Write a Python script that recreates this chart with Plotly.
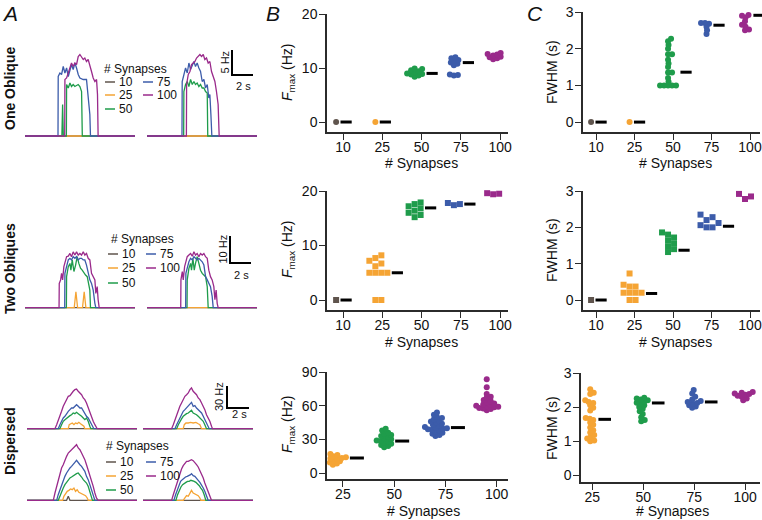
import plotly.graph_objects as go

W, H = 762, 520
FONT = "Liberation Sans, Arial, Helvetica, sans-serif"
AX = "#2b2b2b"
GRAY, ORANGE, GREEN, BLUE, PURPLE = "#5f544d", "#f5a434", "#1f9c4b", "#3c5caa", "#9a2a8b"

syn5 = ["10", "25", "50", "75", "100"]
syn4 = ["25", "50", "75", "100"]
col5 = [GRAY, ORANGE, GREEN, BLUE, PURPLE]
col4 = [ORANGE, GREEN, BLUE, PURPLE]

# ---------------- Panel B : Fmax (Hz) ----------------
fmax_one_10 = [0]
fmax_one_25 = [0]
fmax_one_50 = [8.4, 8.6, 8.8, 8.9, 9.0, 9.2, 9.4, 9.6, 9.8, 9.9]
fmax_one_75 = [8.6, 8.7, 8.8, 10.5, 10.8, 11.0, 11.3, 11.5, 11.8, 12.0]
fmax_one_100 = [11.6, 11.8, 12.0, 12.1, 12.3, 12.5, 12.6, 12.8]
fmax_one_mean = [0, 0, 9.0, 11.0, 12.2]

fmax_two_10 = [0]
fmax_two_25 = [0, 0, 5, 5, 5, 5, 6.2, 6.7, 7.2, 7.7, 8.2]
fmax_two_50 = [15.2, 15.6, 16.0, 16.4, 16.8, 17.2, 17.6, 17.9]
fmax_two_75 = [17.4, 17.6, 17.8]
fmax_two_100 = [19.4, 19.5, 19.6]
fmax_two_mean = [0, 5.0, 16.9, 17.6, 19.4]

fmax_disp_25 = [7.5, 8.5, 9.5, 10.5, 11, 11.5, 12, 12.5, 13, 13.5, 14, 15, 16, 17, 18]
fmax_disp_50 = [23, 24, 25, 26, 27, 28, 28.5, 29, 30, 31, 32, 33, 34, 35, 36, 38, 39.5]
fmax_disp_75 = [33, 34, 35, 36, 37, 38, 38.5, 39, 39.5, 40, 40.5, 41, 42, 43, 44, 45, 46,
                47, 48, 49, 50, 52, 54]
fmax_disp_100 = [56, 57, 57.5, 58, 58.5, 59, 59.5, 60, 60.5, 61, 62, 63, 64, 65, 67, 68,
                 70.5, 76.5, 83.5]
fmax_disp_mean = [13.4, 28.5, 40.5, 60.2]

# ---------------- Panel C : FWHM (s) ----------------
fwhm_one_10 = [0]
fwhm_one_25 = [0]
fwhm_one_50 = [1.0, 1.0, 1.0, 1.0, 1.0, 1.1, 1.2, 1.35, 1.35, 1.5, 1.6, 1.7, 1.85, 1.85,
               2.0, 2.1, 2.2, 2.27]
fwhm_one_75 = [2.4, 2.5, 2.6, 2.68, 2.7, 2.7]
fwhm_one_100 = [2.5, 2.52, 2.6, 2.65, 2.75, 2.85, 2.9, 2.92]
fwhm_one_mean = [0, 0, 1.36, 2.64, 2.91]

fwhm_two_10 = [0]
fwhm_two_25 = [0, 0, 0.2, 0.2, 0.2, 0.2, 0.37, 0.37, 0.42, 0.73]
fwhm_two_50 = [1.32, 1.4, 1.48, 1.56, 1.64, 1.72, 1.8, 1.86]
fwhm_two_75 = [2.0, 2.0, 2.06, 2.12, 2.2, 2.28, 2.35]
fwhm_two_100 = [2.78, 2.85, 2.92]
fwhm_two_mean = [0, 0.18, 1.37, 2.03, 2.87]

fwhm_disp_25 = [1.0, 1.02, 1.08, 1.12, 1.18, 1.25, 1.32, 1.4, 1.48, 1.55, 1.62, 1.66, 1.68,
                1.9, 1.98, 2.05, 2.12, 2.15, 2.2, 2.38, 2.42, 2.52]
fwhm_disp_50 = [1.58, 1.62, 1.7, 1.8, 1.88, 1.95, 2.0, 2.05, 2.1, 2.13, 2.16, 2.2, 2.22,
                2.25, 2.27]
fwhm_disp_75 = [1.98, 2.02, 2.05, 2.1, 2.12, 2.15, 2.18, 2.22, 2.3, 2.4, 2.5]
fwhm_disp_100 = [2.2, 2.25, 2.3, 2.33, 2.36, 2.38, 2.4, 2.42, 2.44]
fwhm_disp_mean = [1.64, 2.12, 2.15, 2.4]

# ---------------- Panel A : firing-rate traces (time s, rate Hz) ----------------
flat_t = [0, 10.5]
flat_hz = [0, 0]

one_L_50_t = [0, 3.52, 3.59, 3.66, 3.95, 3.97, 4.13, 4.29, 4.44, 4.60, 4.76, 4.92, 5.08, 5.24, 5.40, 5.47, 10.5]
one_L_50_hz = [0, 0, 6.3, 0, 0, 10.3, 9.6, 10.6, 9.9, 10.3, 9.9, 10.1, 10.3, 9.9, 8.9, 0, 0]
one_L_75_t = [0, 3.15, 3.17, 3.33, 3.49, 3.65, 3.81, 3.97, 4.13, 4.29, 4.44, 4.60, 4.76, 4.92, 5.08, 5.24, 5.56, 5.87, 6.03, 6.19, 6.25, 10.5]
one_L_75_hz = [0, 0, 11.9, 12.6, 12.3, 13.9, 12.6, 13.6, 11.9, 12.9, 14.3, 13.3, 14.6, 13.6, 12.3, 11.6, 11.3, 11.3, 8.3, 4.3, 0, 0]
one_L_100_t = [0, 3.79, 3.81, 3.97, 4.13, 4.29, 4.44, 4.60, 4.76, 4.92, 5.08, 5.24, 5.40, 5.56, 5.71, 5.87, 6.03, 6.19, 6.35, 6.51, 6.67, 6.83, 6.92, 6.98, 10.5]
one_L_100_hz = [0, 0, 11.3, 11.6, 12.6, 13.6, 14.6, 13.9, 14.6, 14.3, 15.9, 16.3, 15.9, 15.3, 15.6, 14.9, 15.3, 14.3, 12.9, 11.6, 10.9, 11.3, 8.3, 0, 0]

one_R_50_t = [0, 3.50, 3.52, 3.68, 3.84, 4.0, 4.16, 4.32, 4.48, 4.63, 4.79, 4.95, 5.11, 5.27, 5.43, 5.59, 5.75, 5.8, 10.5]
one_R_50_hz = [0, 0, 8.9, 10.3, 10.9, 9.9, 11.3, 10.3, 10.9, 10.3, 10.6, 9.9, 10.3, 9.6, 9.6, 8.9, 8.6, 0, 0]
one_R_75_t = [0, 3.34, 3.36, 3.52, 3.68, 3.84, 4.0, 4.16, 4.32, 4.48, 4.63, 4.79, 4.95, 5.11, 5.27, 5.43, 5.59, 5.75, 5.90, 6.0, 6.1, 6.19, 10.5]
one_R_75_hz = [0, 0, 10.9, 12.3, 13.6, 12.6, 14.6, 13.3, 14.3, 14.9, 13.9, 14.6, 13.6, 12.9, 10.9, 11.3, 9.6, 10.3, 7.6, 8.3, 4.3, 0, 0]
one_R_100_t = [0, 3.76, 3.78, 3.94, 4.10, 4.25, 4.41, 4.57, 4.73, 4.89, 5.05, 5.21, 5.37, 5.52, 5.68, 5.84, 6.0, 6.16, 6.32, 6.48, 6.63, 6.79, 6.89, 10.5]
one_R_100_hz = [0, 0, 10.3, 12.3, 12.9, 14.3, 14.6, 14.9, 15.6, 15.9, 16.3, 15.9, 16.3, 15.3, 15.6, 14.6, 14.9, 12.9, 11.9, 10.9, 8.9, 6.3, 0, 0]

two_L_25_t = [0, 4.70, 4.86, 5.02, 5.49, 5.65, 5.81, 10.5]
two_L_25_hz = [0, 0, 5.9, 0, 0, 5.9, 0, 0]
two_L_50_t = [0, 3.95, 3.97, 4.13, 4.29, 4.38, 4.51, 4.67, 4.83, 4.98, 5.14, 5.30, 5.46, 5.62, 5.78, 5.94, 6.10, 6.19, 6.25, 10.5]
two_L_50_hz = [0, 0, 11.5, 15.2, 16.4, 13.9, 17.7, 13.4, 15.8, 18.9, 16.4, 14.6, 13.9, 12.7, 12.1, 11.5, 7.8, 6.5, 0, 0]
two_L_75_t = [0, 3.79, 3.81, 3.97, 4.13, 4.29, 4.44, 4.60, 4.76, 4.92, 5.08, 5.24, 5.40, 5.56, 5.71, 5.87, 6.03, 6.19, 6.35, 6.51, 6.67, 6.76, 10.5]
two_L_75_hz = [0, 0, 12.7, 15.2, 17.7, 18.3, 17.7, 18.9, 18.3, 18.9, 17.7, 18.3, 18.3, 17.7, 17.7, 15.8, 12.7, 10.3, 9.0, 6.5, 1.6, 0, 0]
two_L_100_t = [0, 3.25, 3.27, 3.40, 3.49, 3.59, 3.71, 3.84, 3.97, 4.13, 4.29, 4.44, 4.60, 4.76, 4.92, 5.08, 5.24, 5.40, 5.56, 5.71, 5.87, 6.03, 6.19, 6.35, 6.51, 6.67, 6.76, 6.89, 6.98, 7.08, 10.5]
two_L_100_hz = [0, 0, 9.0, 10.3, 12.7, 10.3, 15.2, 17.0, 18.9, 19.1, 20.1, 18.9, 20.7, 19.5, 20.7, 19.5, 20.1, 19.5, 20.7, 19.5, 20.1, 18.3, 17.7, 12.7, 11.5, 10.3, 5.3, 7.8, 3.0, 0, 0]

two_R_50_t = [0, 3.82, 3.84, 4.0, 4.16, 4.25, 4.38, 4.51, 4.63, 4.79, 4.95, 5.11, 5.27, 5.43, 5.59, 5.75, 5.84, 10.5]
two_R_50_hz = [0, 0, 10.3, 14.6, 16.4, 13.9, 18.3, 13.9, 16.4, 18.9, 16.4, 13.9, 12.7, 12.1, 11.5, 7.8, 0, 0]
two_R_75_t = [0, 3.69, 3.71, 3.84, 4.0, 4.16, 4.32, 4.48, 4.63, 4.79, 4.95, 5.11, 5.27, 5.43, 5.59, 5.75, 5.90, 6.06, 6.22, 6.32, 10.5]
two_R_75_hz = [0, 0, 12.7, 15.2, 17.0, 18.3, 17.7, 18.9, 18.3, 17.7, 18.3, 17.7, 17.0, 15.8, 11.5, 10.3, 9.0, 7.8, 4.2, 0, 0]
two_R_100_t = [0, 3.22, 3.24, 3.37, 3.46, 3.59, 3.71, 3.84, 4.0, 4.16, 4.32, 4.48, 4.63, 4.79, 4.95, 5.11, 5.27, 5.43, 5.59, 5.75, 5.90, 6.06, 6.22, 6.38, 6.48, 6.60, 6.70, 6.79, 10.5]
two_R_100_hz = [0, 0, 10.3, 13.4, 10.3, 15.2, 17.0, 18.9, 19.5, 20.1, 19.1, 20.7, 19.5, 20.1, 18.9, 20.1, 19.5, 20.1, 18.9, 18.3, 13.9, 11.5, 10.3, 7.8, 3.0, 6.5, 1.6, 0, 0]

dispU_L_25_t = [0, 3.94, 4.03, 4.16, 4.32, 4.48, 4.63, 4.79, 4.95, 5.11, 5.27, 5.43, 5.52, 10.5]
dispU_L_25_hz = [0, 0, 5.5, 6.8, 7.8, 5.5, 7.8, 6.8, 8.7, 6.8, 5.5, 3.3, 0, 0]
dispU_L_50_t = [0, 3.14, 3.30, 3.46, 3.62, 3.78, 3.94, 4.10, 4.25, 4.41, 4.57, 4.73, 4.89, 5.05, 5.21, 5.37, 5.52, 5.68, 5.84, 6.0, 6.10, 10.5]
dispU_L_50_hz = [0, 0, 5.5, 10.1, 12.3, 14.6, 16.9, 17.8, 19.1, 21.4, 20.5, 22.3, 20.5, 19.1, 16.9, 14.6, 12.3, 14.6, 10.1, 3.3, 0, 0]
dispU_L_75_t = [0, 2.98, 3.14, 3.30, 3.46, 3.62, 3.78, 3.94, 4.10, 4.25, 4.41, 4.57, 4.73, 4.89, 5.05, 5.21, 5.37, 5.52, 5.68, 5.84, 6.0, 6.16, 6.32, 6.38, 10.5]
dispU_L_75_hz = [0, 0, 5.5, 10.1, 14.6, 16.9, 21.4, 23.7, 26.0, 28.2, 28.2, 30.5, 32.7, 30.5, 28.2, 28.2, 23.7, 21.4, 16.9, 14.6, 10.1, 5.5, 0.9, 0, 0]
dispU_L_100_t = [0, 2.67, 2.83, 2.98, 3.14, 3.30, 3.46, 3.62, 3.78, 3.94, 4.10, 4.25, 4.41, 4.57, 4.73, 4.89, 5.05, 5.21, 5.37, 5.52, 5.68, 5.84, 6.0, 6.16, 6.32, 6.48, 6.63, 6.70, 10.5]
dispU_L_100_hz = [0, 0, 5.5, 12.3, 19.1, 23.7, 30.5, 35.0, 39.6, 44.2, 45.1, 48.7, 51.0, 53.2, 54.1, 51.0, 48.7, 46.4, 41.9, 39.6, 35.0, 28.2, 21.4, 16.9, 10.1, 5.5, 0.9, 0, 0]

dispU_R_25_t = [0, 3.84, 3.94, 4.10, 4.32, 4.54, 4.79, 5.05, 5.27, 5.43, 5.59, 10.5]
dispU_R_25_hz = [0, 0, 5.5, 7.8, 7.8, 8.7, 7.8, 8.7, 6.8, 5.5, 0, 0]
dispU_R_50_t = [0, 3.21, 3.37, 3.52, 3.68, 3.84, 4.0, 4.16, 4.32, 4.48, 4.63, 4.79, 4.95, 5.11, 5.27, 5.43, 5.59, 5.75, 5.90, 6.06, 10.5]
dispU_R_50_hz = [0, 0, 5.5, 10.1, 13.3, 16.9, 19.1, 20.5, 21.4, 23.7, 25.1, 21.4, 20.5, 19.1, 16.9, 14.6, 12.3, 10.1, 5.5, 0, 0]
dispU_R_75_t = [0, 3.05, 3.21, 3.37, 3.52, 3.68, 3.84, 4.0, 4.16, 4.32, 4.48, 4.63, 4.79, 4.95, 5.11, 5.27, 5.43, 5.59, 5.75, 5.90, 6.06, 6.22, 6.32, 10.5]
dispU_R_75_hz = [0, 0, 5.5, 10.1, 14.6, 19.1, 23.7, 26.0, 28.2, 30.5, 32.7, 35.9, 30.5, 31.5, 28.2, 26.0, 23.7, 21.4, 16.9, 12.3, 7.8, 3.3, 0, 0]
dispU_R_100_t = [0, 2.73, 2.89, 3.05, 3.21, 3.37, 3.52, 3.68, 3.84, 4.0, 4.16, 4.32, 4.48, 4.63, 4.79, 4.95, 5.11, 5.27, 5.43, 5.59, 5.75, 5.90, 6.06, 6.22, 6.38, 6.54, 6.63, 10.5]
dispU_R_100_hz = [0, 0, 5.5, 12.3, 19.1, 23.7, 30.5, 35.0, 39.6, 44.2, 46.4, 48.7, 53.2, 55.5, 51.0, 48.7, 46.4, 41.9, 39.6, 35.0, 30.5, 26.0, 19.1, 14.6, 10.1, 3.3, 0, 0]

dispL_L_10_t = [0, 3.78, 3.94, 4.10, 10.5]
dispL_L_10_hz = [0, 0, 5.5, 0, 0]
dispL_L_25_t = [0, 3.40, 3.52, 3.68, 3.84, 4.0, 4.16, 4.32, 4.48, 4.63, 4.79, 4.95, 5.11, 5.27, 5.43, 5.59, 5.75, 5.84, 10.5]
dispL_L_25_hz = [0, 0, 5.5, 10.0, 12.3, 13.6, 15.5, 14.5, 16.8, 12.3, 14.5, 10.9, 10.0, 9.1, 7.7, 6.4, 3.2, 0, 0]
dispL_L_50_t = [0, 2.98, 3.14, 3.30, 3.46, 3.62, 3.78, 3.94, 4.10, 4.25, 4.41, 4.57, 4.73, 4.89, 5.05, 5.21, 5.37, 5.52, 5.68, 5.84, 6.0, 6.16, 6.25, 10.5]
dispL_L_50_hz = [0, 0, 5.5, 12.3, 16.8, 21.4, 24.5, 28.2, 30.5, 31.8, 33.6, 35.0, 36.4, 37.3, 35.0, 31.8, 28.2, 25.9, 23.6, 19.1, 12.3, 5.5, 0, 0]
dispL_L_75_t = [0, 2.83, 2.98, 3.14, 3.30, 3.46, 3.62, 3.78, 3.94, 4.10, 4.25, 4.41, 4.57, 4.73, 4.89, 5.05, 5.21, 5.37, 5.52, 5.68, 5.84, 6.0, 6.16, 6.32, 6.48, 10.5]
dispL_L_75_hz = [0, 0, 7.7, 14.5, 21.4, 25.9, 32.7, 37.3, 41.8, 44.1, 46.4, 48.6, 51.8, 54.5, 50.9, 48.6, 46.4, 42.7, 39.5, 32.7, 28.2, 21.4, 14.5, 7.7, 0, 0]
dispL_L_100_t = [0, 2.51, 2.67, 2.83, 2.98, 3.14, 3.30, 3.46, 3.62, 3.78, 3.94, 4.10, 4.25, 4.41, 4.57, 4.73, 4.89, 5.05, 5.21, 5.37, 5.52, 5.68, 5.84, 6.0, 6.16, 6.32, 6.48, 6.63, 6.79, 10.5]
dispL_L_100_hz = [0, 0, 10.0, 19.1, 28.2, 35.0, 44.1, 48.6, 55.5, 60.0, 64.5, 66.8, 69.1, 71.4, 73.6, 75.9, 71.4, 69.1, 64.5, 60.0, 55.5, 48.6, 41.8, 35.0, 28.2, 19.1, 10.0, 3.2, 0, 0]

dispL_R_25_t = [0, 3.84, 4.0, 4.16, 4.32, 4.48, 4.63, 4.79, 4.95, 5.11, 5.27, 5.43, 5.52, 10.5]
dispL_R_25_hz = [0, 0, 3.2, 6.4, 5.5, 10.0, 13.6, 10.0, 9.1, 7.7, 6.4, 3.2, 0, 0]
dispL_R_50_t = [0, 3.14, 3.30, 3.46, 3.62, 3.78, 3.94, 4.10, 4.25, 4.41, 4.57, 4.73, 4.89, 5.05, 5.21, 5.37, 5.52, 5.68, 5.84, 6.0, 10.5]
dispL_R_50_hz = [0, 0, 7.7, 13.6, 18.2, 21.4, 23.6, 24.5, 25.9, 25.9, 27.3, 26.8, 25.9, 24.5, 22.7, 20.0, 16.8, 13.6, 7.7, 0, 0]
dispL_R_75_t = [0, 2.95, 3.11, 3.27, 3.43, 3.59, 3.75, 3.90, 4.06, 4.22, 4.38, 4.54, 4.63, 4.79, 4.95, 5.11, 5.27, 5.43, 5.59, 5.75, 5.90, 6.06, 6.22, 10.5]
dispL_R_75_hz = [0, 0, 7.7, 14.5, 21.4, 25.9, 28.2, 30.5, 31.8, 32.7, 33.6, 35.0, 36.4, 33.6, 32.7, 30.5, 27.3, 24.5, 21.4, 16.8, 12.3, 5.5, 0, 0]
dispL_R_100_t = [0, 2.73, 2.89, 3.05, 3.21, 3.37, 3.52, 3.68, 3.84, 4.0, 4.16, 4.32, 4.48, 4.63, 4.79, 4.95, 5.11, 5.27, 5.43, 5.59, 5.75, 5.90, 6.06, 6.22, 6.38, 6.54, 10.5]
dispL_R_100_hz = [0, 0, 7.7, 14.5, 23.6, 30.5, 37.3, 42.7, 47.3, 50.9, 53.2, 53.2, 54.5, 55.5, 54.1, 51.8, 48.6, 45.5, 40.9, 36.4, 30.5, 23.6, 18.2, 12.3, 5.5, 0, 0]

# ============================================================================
fig = go.Figure()
axes_layout = {}
annotations = []
shapes = []
n_axes = [0]


def fx(px):
    return px / W


def fy(py):
    return 1 - py / H


def add_axes(x0, x1, y0, y1, xr, yr, xkw=None, ykw=None):
    n_axes[0] += 1
    n = n_axes[0]
    s = "" if n == 1 else str(n)
    base = dict(showgrid=False, zeroline=False, fixedrange=True, automargin=False)
    xa = dict(base, domain=[fx(x0), fx(x1)], range=xr, anchor="y" + s)
    ya = dict(base, domain=[fy(y1), fy(y0)], range=yr, anchor="x" + s)
    if xkw is None:
        xa["visible"] = False
    else:
        xa.update(xkw)
    if ykw is None:
        ya["visible"] = False
    else:
        ya.update(ykw)
    axes_layout["xaxis" + s] = xa
    axes_layout["yaxis" + s] = ya
    return "x" + s, "y" + s


def axis_style(tickvals, ticktext, standoff):
    return dict(visible=True, showline=True, linecolor=AX, linewidth=1.5, ticks="outside",
                ticklen=6, tickwidth=1.3, tickcolor=AX, tickvals=tickvals, ticktext=ticktext,
                ticklabelstandoff=standoff,
                tickfont=dict(size=14, color="#111", family=FONT))


def text(px, py, s, size=12, angle=0, xanchor="center", color="#111"):
    annotations.append(dict(x=fx(px), y=fy(py), xref="paper", yref="paper", text=s,
                            showarrow=False, textangle=angle, xanchor=xanchor,
                            yanchor="middle", borderpad=0,
                            font=dict(size=size, color=color, family=FONT)))


def seg(x0, y0, x1, y1, color, width):
    shapes.append(dict(type="line", xref="paper", yref="paper", x0=fx(x0), y0=fy(y0),
                       x1=fx(x1), y1=fy(y1), line=dict(color=color, width=width)))


# ---------------- beeswarm layout ----------------
def swarm_offsets(values, ppu, dmin, square):
    order = sorted(range(len(values)), key=lambda i: values[i])
    placed = []
    offs = [0.0] * len(values)
    for i in order:
        y = values[i] * ppu
        k = 0
        found = None
        while found is None:
            cands = [0.0] if k == 0 else [k * 0.5, -k * 0.5]
            for xo in cands:
                ok = True
                for (qx, qy) in placed:
                    dx, dy = xo - qx, y - qy
                    if square:
                        if abs(dx) < dmin and abs(dy) < dmin:
                            ok = False
                            break
                    elif dx * dx + dy * dy < dmin * dmin:
                        ok = False
                        break
                if ok:
                    found = xo
                    break
            k += 1
        placed.append((found, y))
        offs[i] = found
    return offs


def swarm_panel(x0, x1, y0, y1, xr, yr, cats, yticks, groups, means, colors,
                symbol, center_off, dash_len):
    xa, ya = add_axes(x0, x1, y0, y1, xr, yr,
                      xkw=axis_style(list(range(len(cats))), cats, -5),
                      ykw=axis_style(yticks, [str(v) for v in yticks], -1))
    ppc = (x1 - x0) / (xr[1] - xr[0])
    ppu = (y1 - y0) / (yr[1] - yr[0])
    square = symbol == "square"
    dmin = 5.6 if square else 3.7
    for i, (vals, c) in enumerate(zip(groups, colors)):
        offs = swarm_offsets(vals, ppu, dmin, square)
        xs = [i + (center_off + o) / ppc for o in offs]
        fig.add_trace(go.Scatter(x=xs, y=vals, mode="markers", xaxis=xa, yaxis=ya,
                                 marker=dict(symbol=symbol, size=6, color=c, line=dict(width=0)),
                                 showlegend=False, cliponaxis=False, hoverinfo="skip"))
        xd = i + (center_off + max(offs) + 3 + 3 + dash_len / 2) / ppc
        fig.add_trace(go.Scatter(x=[xd], y=[means[i]], mode="markers", xaxis=xa, yaxis=ya,
                                 marker=dict(symbol="line-ew", size=dash_len,
                                             line=dict(width=3, color="black")),
                                 showlegend=False, cliponaxis=False, hoverinfo="skip"))


# Panel B
swarm_panel(327, 508, 14, 132, [-0.41, 4.2], [-1.85, 20], syn5, [0, 10, 20],
            [fmax_one_10, fmax_one_25, fmax_one_50, fmax_one_75, fmax_one_100],
            fmax_one_mean, col5, "circle", -7, 8)
swarm_panel(327, 508, 191, 310, [-0.41, 4.2], [-1.83, 20], syn5, [0, 10, 20],
            [fmax_two_10, fmax_two_25, fmax_two_50, fmax_two_75, fmax_two_100],
            fmax_two_mean, col5, "square", -7, 8)
swarm_panel(327, 508, 372, 479, [-0.31, 3.22], [-5.3, 90], syn4, [0, 30, 60, 90],
            [fmax_disp_25, fmax_disp_50, fmax_disp_75, fmax_disp_100],
            fmax_disp_mean, col4, "circle", -10, 10)
# Panel C
swarm_panel(583, 760, 12, 132, [-0.34, 4.26], [-0.27, 3], syn5, [0, 1, 2, 3],
            [fwhm_one_10, fwhm_one_25, fwhm_one_50, fwhm_one_75, fwhm_one_100],
            fwhm_one_mean, col5, "circle", -5, 8)
swarm_panel(583, 760, 191, 310, [-0.34, 4.26], [-0.275, 3], syn5, [0, 1, 2, 3],
            [fwhm_two_10, fwhm_two_25, fwhm_two_50, fwhm_two_75, fwhm_two_100],
            fwhm_two_mean, col5, "square", -5, 8)
swarm_panel(581, 760, 373, 482, [-0.22, 3.29], [-0.2, 3], syn4, [0, 1, 2, 3],
            [fwhm_disp_25, fwhm_disp_50, fwhm_disp_75, fwhm_disp_100],
            fwhm_disp_mean, col4, "circle", -2, 9)


# ---------------- Panel A traces ----------------
def trace_panel(x0, x1, y0, y1, yr, series):
    xa, ya = add_axes(x0, x1, y0, y1, [0, 10.5], yr)
    for (t, hz, c) in series:
        fig.add_trace(go.Scatter(x=t, y=hz, mode="lines", xaxis=xa, yaxis=ya,
                                 line=dict(color=c, width=1.3), showlegend=False,
                                 hoverinfo="skip", cliponaxis=False))


trace_panel(25, 135, 40, 140, [-0.8, 19.2], [
    (flat_t, flat_hz, GRAY), (flat_t, flat_hz, ORANGE), (one_L_50_t, one_L_50_hz, GREEN),
    (one_L_75_t, one_L_75_hz, BLUE), (one_L_100_t, one_L_100_hz, PURPLE)])
trace_panel(147, 257, 40, 140, [-0.8, 19.2], [
    (flat_t, flat_hz, GRAY), (flat_t, flat_hz, ORANGE), (one_R_50_t, one_R_50_hz, GREEN),
    (one_R_75_t, one_R_75_hz, BLUE), (one_R_100_t, one_R_100_hz, PURPLE)])
trace_panel(25, 135, 220, 312, [-1.6, 32.5], [
    (flat_t, flat_hz, GRAY), (two_L_25_t, two_L_25_hz, ORANGE), (two_L_50_t, two_L_50_hz, GREEN),
    (two_L_75_t, two_L_75_hz, BLUE), (two_L_100_t, two_L_100_hz, PURPLE)])
trace_panel(147, 257, 220, 312, [-1.6, 32.5], [
    (flat_t, flat_hz, GRAY), (flat_t, flat_hz, ORANGE), (two_R_50_t, two_R_50_hz, GREEN),
    (two_R_75_t, two_R_75_hz, BLUE), (two_R_100_t, two_R_100_hz, PURPLE)])
trace_panel(27, 137, 380, 432, [-4.5, 66.4], [
    (flat_t, flat_hz, GRAY), (dispU_L_25_t, dispU_L_25_hz, ORANGE),
    (dispU_L_50_t, dispU_L_50_hz, GREEN), (dispU_L_75_t, dispU_L_75_hz, BLUE),
    (dispU_L_100_t, dispU_L_100_hz, PURPLE)])
trace_panel(143, 253, 380, 432, [-4.5, 66.4], [
    (flat_t, flat_hz, GRAY), (dispU_R_25_t, dispU_R_25_hz, ORANGE),
    (dispU_R_50_t, dispU_R_50_hz, GREEN), (dispU_R_75_t, dispU_R_75_hz, BLUE),
    (dispU_R_100_t, dispU_R_100_hz, PURPLE)])
trace_panel(27, 137, 440, 504, [-5.0, 82.3], [
    (dispL_L_10_t, dispL_L_10_hz, GRAY), (dispL_L_25_t, dispL_L_25_hz, ORANGE),
    (dispL_L_50_t, dispL_L_50_hz, GREEN), (dispL_L_75_t, dispL_L_75_hz, BLUE),
    (dispL_L_100_t, dispL_L_100_hz, PURPLE)])
trace_panel(143, 253, 440, 504, [-5.0, 82.3], [
    (flat_t, flat_hz, GRAY), (dispL_R_25_t, dispL_R_25_hz, ORANGE),
    (dispL_R_50_t, dispL_R_50_hz, GREEN), (dispL_R_75_t, dispL_R_75_hz, BLUE),
    (dispL_R_100_t, dispL_R_100_hz, PURPLE)])


# ---------------- legends in panel A ----------------
def legend_block(cx, ty, rows_y, k1, k2):
    text(cx, ty, "# Synapses", size=12)
    entries = [(0, 0, syn5[0], GRAY), (0, 1, syn5[1], ORANGE), (0, 2, syn5[2], GREEN),
               (1, 0, syn5[3], BLUE), (1, 1, syn5[4], PURPLE)]
    for col, row, lab, c in entries:
        kx = k1 if col == 0 else k2
        yy = rows_y[row]
        seg(kx, yy, kx + 10, yy, c, 1.5)
        text(kx + 13, yy, lab, size=12, xanchor="left")


legend_block(135, 69, [82, 95, 109], 105, 143)
legend_block(142, 239, [254, 268, 283], 108, 146)
legend_block(137, 446, [462, 476, 490], 106, 146)


# ---------------- scale bars ----------------
def scale_bar(x, ytop, ybot, xlen, ylab, ylab_x, slab_y):
    seg(x, ytop, x, ybot, "black", 2)
    seg(x - 1, ybot, x + xlen, ybot, "black", 2)
    text(ylab_x, (ytop + ybot) / 2, ylab, size=11, angle=-90)
    text(x + xlen / 2 + 1, slab_y, "2 s", size=11)


scale_bar(232, 50, 75, 21, "5 Hz", 224, 86)
scale_bar(230, 236, 263, 21, "10 Hz", 222, 275)
scale_bar(227, 386, 408, 22, "30 Hz", 219, 414)

# ---------------- labels ----------------
text(10, 13, "<i>A</i>", size=21)
text(273, 13, "<i>B</i>", size=21)
text(535, 13, "<i>C</i>", size=21)
text(10, 89, "<b>One Oblique</b>", size=14, angle=-90)
text(10, 269, "<b>Two Obliques</b>", size=14, angle=-90)
text(10, 441, "<b>Dispersed</b>", size=14, angle=-90)

FMAX = "<i>F</i><sub>max</sub> (Hz)"
text(288, 73, FMAX, size=14, angle=-90)
text(288, 250, FMAX, size=14, angle=-90)
text(288, 425, FMAX, size=14, angle=-90)
text(552, 72, "FWHM (s)", size=14, angle=-90)
text(552, 250, "FWHM (s)", size=14, angle=-90)
text(552, 428, "FWHM (s)", size=14, angle=-90)
for (xx, yy) in [(421, 163), (421, 342), (423, 511), (675, 163), (675, 342), (672, 511)]:
    text(xx, yy, "# Synapses", size=14)

fig.update_layout(
    width=W, height=H, autosize=False, margin=dict(l=0, r=0, t=0, b=0, pad=0),
    paper_bgcolor="white", plot_bgcolor="rgba(0,0,0,0)",
    font=dict(family=FONT, color="#111"), showlegend=False, hovermode=False,
    annotations=annotations, shapes=shapes, **axes_layout)

fig.write_html("out.html", config={"displayModeBar": False},
               post_script="document.body.style.margin='0';document.body.style.padding='0';")
